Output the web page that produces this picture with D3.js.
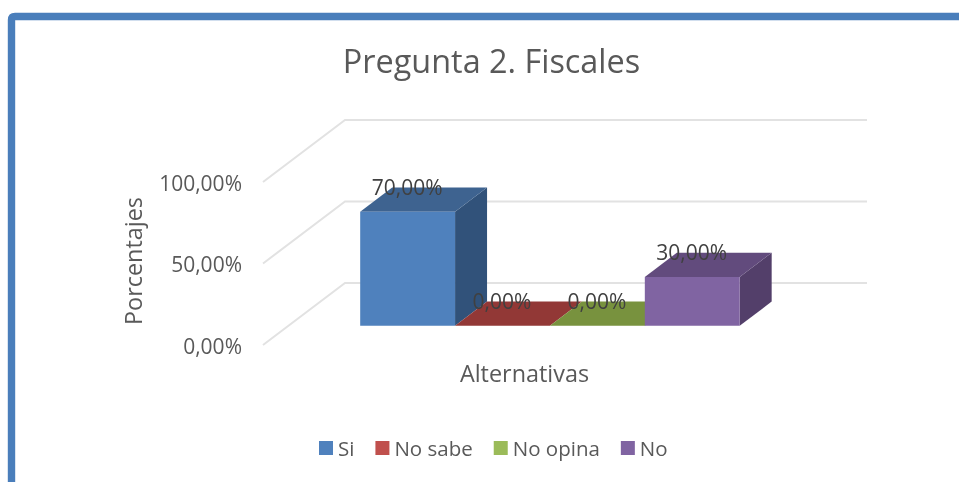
<!DOCTYPE html>
<html><head><meta charset="utf-8">
<style>html,body{margin:0;padding:0;background:#fff;overflow:hidden}svg{display:block;filter:blur(.45px)}text{font-family:"Open Sans",sans-serif}</style>
<script src="https://cdn.jsdelivr.net/npm/d3@7/dist/d3.min.js"></script></head><body>
<svg id="c" width="959" height="482"></svg>
<script>
const titleText = "Pregunta 2. Fiscales";
const yTitle = "Porcentajes";
const xTitle = "Alternativas";
const categories = ["Si","No sabe","No opina","No"];
const values = [0.70,0,0,0.30];
const yTicks = [0,0.5,1];
const frontColors = ["#4f81bd","#c0504d","#9bbb59","#8064a2"];
const topColors = ["#3e6390","#923836","#78923e","#624b7d"];
const sideColors = ["#31527a","#7a2f2d","#5f7530","#533f6a"];
const legendColors = ["#4f81bd","#c0504d","#9bbb59","#8064a2"];

const svg = d3.select("#c");
const fmt = d3.formatLocale({decimal:",",thousands:".",grouping:[3],currency:["","%"]}).format(".2%");

// frame
svg.append("path").attr("d","M11.5,490V20Q11.5,16.5 15,16.5H970")
  .attr("fill","none").attr("stroke","#4a7ebb").attr("stroke-width",7.4);

const y = d3.scaleLinear().domain([0,1]).range([345,182]);
const depthX = d3.scaleLinear().domain([0,1]).range([0,82]);
const depthY = d3.scaleLinear().domain([0,1]).range([0,-62]);
const wallX = d3.scaleLinear().domain([0,1]).range([263,785]);
const x = d3.scaleBand().domain(categories).range([wallX(0.1375),wallX(0.8645)]).padding(0);
const P = (px,v,d)=>[px+depthX(d), y(v)+depthY(d)];
const line = d3.line();
const dFront = 0.31, dBack = 0.70;

// gridlines on side and back wall
svg.append("g").selectAll("path").data(yTicks).join("path")
  .attr("d",v=>line([P(wallX(0),v,0),P(wallX(0),v,1),P(wallX(1),v,1)]))
  .attr("fill","none").attr("stroke","#e2e2e2").attr("stroke-width",2);

// axis labels
const axis = d3.axisLeft(y).tickValues(yTicks).tickFormat(fmt).tickSize(0).tickPadding(21);
const ag = svg.append("g").attr("transform",`translate(${wallX(0)},1.7)`).call(axis);
ag.select(".domain").remove();
ag.selectAll("text").attr("font-family","Open Sans").attr("font-size",21).attr("fill","#595959");

// bars
const poly = a=>line(a)+"Z";
categories.forEach((c,i)=>{
  const g = svg.append("g"), l=x(c), r=l+x.bandwidth(), v=values[i];
  g.append("path").attr("fill",sideColors[i]).attr("d",poly([P(r,0,dFront),P(r,0,dBack),P(r,v,dBack),P(r,v,dFront)]));
  g.append("path").attr("fill",topColors[i]).attr("d",poly([P(l,v,dFront),P(l,v,dBack),P(r,v,dBack),P(r,v,dFront)]));
  g.append("path").attr("fill",frontColors[i]).attr("d",poly([P(l,0,dFront),P(r,0,dFront),P(r,v,dFront),P(l,v,dFront)]));
});

// data labels
svg.append("g").selectAll("text").data(categories).join("text")
  .attr("text-anchor","middle").attr("font-size",21).attr("fill","#404040")
  .attr("x",c=>x(c)+x.bandwidth()/2+depthX(dFront)-0.5)
  .attr("y",(c,i)=>P(0,values[i],dFront)[1]-17)
  .text((c,i)=>fmt(values[i]));

// titles
svg.append("text").attr("x",491.5).attr("y",72.5).attr("text-anchor","middle").attr("font-size",32.4).attr("fill","#595959").text(titleText);
svg.append("text").attr("transform","translate(141.5,261) rotate(-90)").attr("text-anchor","middle").attr("font-size",23.4).attr("fill","#595959").text(yTitle);
svg.append("text").attr("x",524.5).attr("y",381.5).attr("text-anchor","middle").attr("font-size",23.4).attr("fill","#595959").text(xTitle);

// legend
const lg = svg.append("g");
let cx = 319;
categories.forEach((c,i)=>{
  lg.append("rect").attr("x",cx).attr("y",441).attr("width",14).attr("height",14).attr("fill",legendColors[i]);
  const t = lg.append("text").attr("x",cx+19).attr("y",455.5).attr("font-size",20.5).attr("fill","#595959").text(c);
  cx += 19 + t.node().getComputedTextLength() + 21;
});
</script></body></html>
